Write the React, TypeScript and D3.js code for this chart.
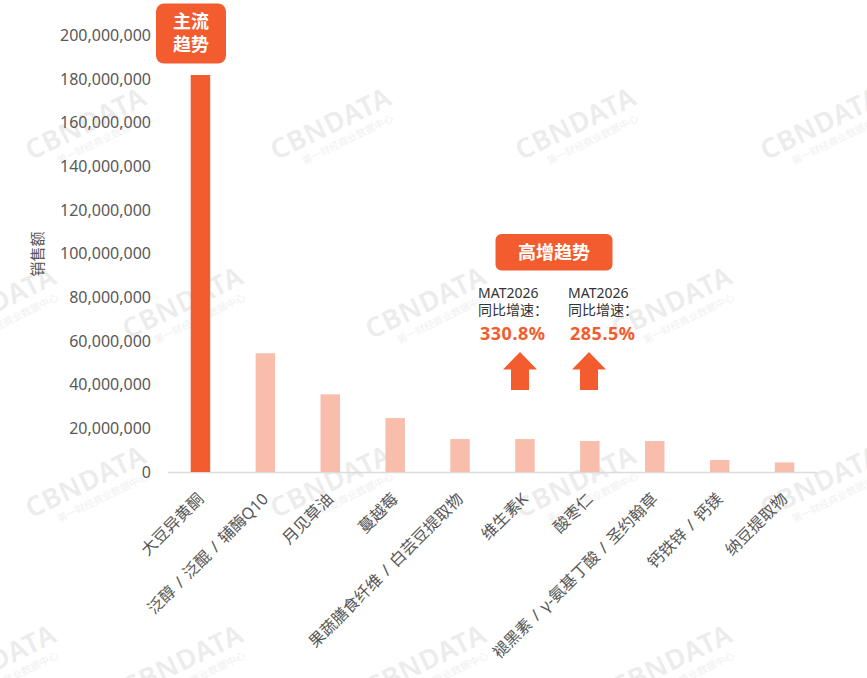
import React from "react";
import * as d3 from "d3";

const categories = [
  "大豆异黄酮",
  "泛醇/泛醌/辅酶Q10",
  "月见草油",
  "蔓越莓",
  "果蔬膳食纤维/白芸豆提取物",
  "维生素K",
  "酸枣仁",
  "褪黑素/γ-氨基丁酸/圣约翰草",
  "钙铁锌/钙镁",
  "纳豆提取物",
];
const salesValues = [181.9e6, 54.4e6, 35.6e6, 24.7e6, 15.1e6, 15.1e6, 14.2e6, 14.2e6, 5.5e6, 4.4e6];
const yTicks = [0, 20e6, 40e6, 60e6, 80e6, 100e6, 120e6, 140e6, 160e6, 180e6, 200e6];
const growthLabels = ["330.8%", "285.5%"];
const growthPeriod = "MAT2026";
const growthCaption = "同比增速：";
const yTitle = "销售额";
const mainTag = ["主流", "趋势"];
const highTag = "高增趋势";

const W = 867;
const H = 678;
const FONT = "'Noto Sans', 'Noto Sans CJK SC', sans-serif";
const MAIN = "#F25C2E";
const LIGHT = "#F8BEAB";

const wmRowA = [90, 335, 580, 825];
const wmRowB = [0, 187, 430, 676];

function Watermark({ x, y }: { x: number; y: number }) {
  return (
    <g transform={`translate(${x},${y}) rotate(-26)`}>
      <text x={0} y={0} textAnchor="middle" fontSize={27} fontWeight={600} fill="#ececec" fontFamily={FONT} letterSpacing={1}>
        CBNDATA
      </text>
      <text x={8} y={16} textAnchor="middle" fontSize={10} fill="#f0f0f0" fontFamily={FONT}>
        第一财经商业数据中心
      </text>
    </g>
  );
}

function SlashLabel({ text }: { text: string }) {
  const parts = text.split("/");
  const out: React.ReactNode[] = [];
  parts.forEach((p, i) => {
    if (i > 0) {
      out.push(
        <tspan key={"s" + i} dx={6}>
          /
        </tspan>
      );
      out.push(
        <tspan key={"p" + i} dx={6}>
          {p}
        </tspan>
      );
    } else {
      out.push(<tspan key={"p" + i}>{p}</tspan>);
    }
  });
  return <>{out}</>;
}

export default function App() {
  const x = d3.scaleBand<string>().domain(categories).range([168, 817]).paddingInner(0.7).paddingOuter(0.35);
  const y = d3.scaleLinear().domain([0, 200e6]).range([472, 35.5]);
  const fmt = d3.format(",");
  const cx = (i: number) => (x(categories[i]) as number) + x.bandwidth() / 2;

  const arrowPath = (c: number) => {
    const tip = 352, base = 369.5, bottom = 390, hw = 17, sw = 9;
    return `M${c},${tip} L${c + hw},${base} L${c + sw},${base} L${c + sw},${bottom} L${c - sw},${bottom} L${c - sw},${base} L${c - hw},${base} Z`;
  };
  const annX = [478, 568];
  const arrowX = [520, 589];

  return (
    <svg width={W} height={H} style={{ position: "fixed", left: 0, top: 0, background: "#fff" }} fontFamily={FONT}>
      <rect width={W} height={H} fill="#fff" />
      {wmRowA.map((wx) => (
        <Watermark key={"a1" + wx} x={wx} y={132} />
      ))}
      {wmRowB.map((wx) => (
        <Watermark key={"b1" + wx} x={wx} y={311} />
      ))}
      {wmRowA.map((wx) => (
        <Watermark key={"a2" + wx} x={wx} y={490} />
      ))}
      {wmRowB.map((wx) => (
        <Watermark key={"b2" + wx} x={wx} y={669} />
      ))}

      {yTicks.map((t) => (
        <text key={t} x={151} y={y(t)} dy="0.35em" textAnchor="end" fontSize={16} fill="#595959">
          {fmt(t)}
        </text>
      ))}
      <text transform={`translate(43,254) rotate(-90)`} textAnchor="middle" fontSize={15} fill="#555">
        {yTitle}
      </text>

      <line x1={168} x2={817} y1={y(0) + 0.5} y2={y(0) + 0.5} stroke="#dcdcdc" strokeWidth={1.5} />

      {salesValues.map((v, i) => (
        <rect
          key={i}
          x={x(categories[i])}
          y={y(v)}
          width={x.bandwidth()}
          height={y(0) - y(v)}
          fill={i === 0 ? MAIN : LIGHT}
        />
      ))}

      {categories.map((c, i) => (
        <text
          key={c}
          transform={`translate(${cx(i) + 4},${500}) rotate(-45)`}
          textAnchor="end"
          fontSize={16}
          fill="#575757"
        >
          <SlashLabel text={c} />
        </text>
      ))}

      {/* main trend tag */}
      <rect x={156} y={3.5} width={70} height={60} rx={8} fill={MAIN} />
      <text x={191} y={28} textAnchor="middle" fontSize={18} fontWeight={700} fill="#fff">
        {mainTag[0]}
      </text>
      <text x={191} y={51} textAnchor="middle" fontSize={18} fontWeight={700} fill="#fff">
        {mainTag[1]}
      </text>

      {/* high growth tag */}
      <rect x={495.5} y={234} width={117} height={36.5} rx={6} fill={MAIN} />
      <text x={554} y={258.5} textAnchor="middle" fontSize={18} fontWeight={700} fill="#fff">
        {highTag}
      </text>

      {growthLabels.map((g, i) => (
        <g key={g}>
          <text x={annX[i]} y={297.5} fontSize={14} fill="#333">
            {growthPeriod}
          </text>
          <text x={annX[i]} y={315} fontSize={14} fill="#333">
            {growthCaption}
          </text>
          <text x={annX[i] + 2} y={340} fontSize={18} fontWeight={700} fill={MAIN} letterSpacing={0.5}>
            {g}
          </text>
          <path d={arrowPath(arrowX[i])} fill={MAIN} />
        </g>
      ))}
    </svg>
  );
}
